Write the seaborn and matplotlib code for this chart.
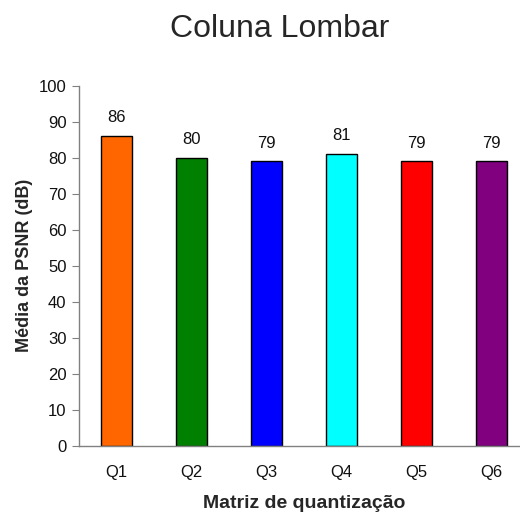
import matplotlib
matplotlib.use("Agg")
import matplotlib.pyplot as plt
import seaborn as sns
import pandas as pd
import numpy as np

categories = ["Q1", "Q2", "Q3", "Q4", "Q5", "Q6"]
values = [86, 80, 79, 81, 79, 79]
colors = ["#FF6600", "#008000", "#0000FF", "#00FFFF", "#FF0000", "#800080"]
yticks = list(range(0, 101, 10))

sns.set_style("white")
plt.rcParams['font.family'] = ['Liberation Sans', 'DejaVu Sans']

df = pd.DataFrame({"cat": categories, "val": values})

fig = plt.figure(figsize=(5.20, 5.18), dpi=100)
ax = fig.add_axes([79/520, 1 - 445.7/518, 450/520, 360/518])

sns.barplot(data=df, x="cat", y="val", hue="cat", palette=colors, dodge=False,
            saturation=1, edgecolor="black", linewidth=1.0, width=0.41,
            legend=False, ax=ax)

for i, v in enumerate(values):
    ax.text(i, v + 3, f"{v}", ha="center", va="bottom", fontsize=12, color="#111111")

ax.set_xlim(-0.5, 5.5)
ax.set_ylim(0, 100)
ax.set_yticks(yticks)
ax.set_yticklabels([str(t) for t in yticks], fontsize=12, color="#111111")
ax.set_xticks(np.arange(6))
ax.set_xticklabels(categories, fontsize=12, color="#111111")
ax.set_xticks(np.arange(-0.5, 6, 1), minor=True)
ax.tick_params(axis="x", which="major", length=0, pad=14)
ax.tick_params(axis="x", which="minor", length=5, color="#808080", direction="out")
ax.tick_params(axis="y", length=5, color="#808080", direction="out", left=True, pad=4)

for s in ["top", "right"]:
    ax.spines[s].set_visible(False)
for s in ["left", "bottom"]:
    ax.spines[s].set_color("#808080")
    ax.spines[s].set_linewidth(1.0)

ax.set_xlabel("Matriz de quantização", fontsize=14, fontweight="bold", labelpad=11)
ax.set_ylabel("Média da PSNR (dB)", fontsize=13, fontweight="bold", labelpad=4)

fig.text(280/520, 1 - 29/518, "Coluna Lombar", ha="center", va="center", fontsize=23)

fig.savefig("out.png", dpi=100)
